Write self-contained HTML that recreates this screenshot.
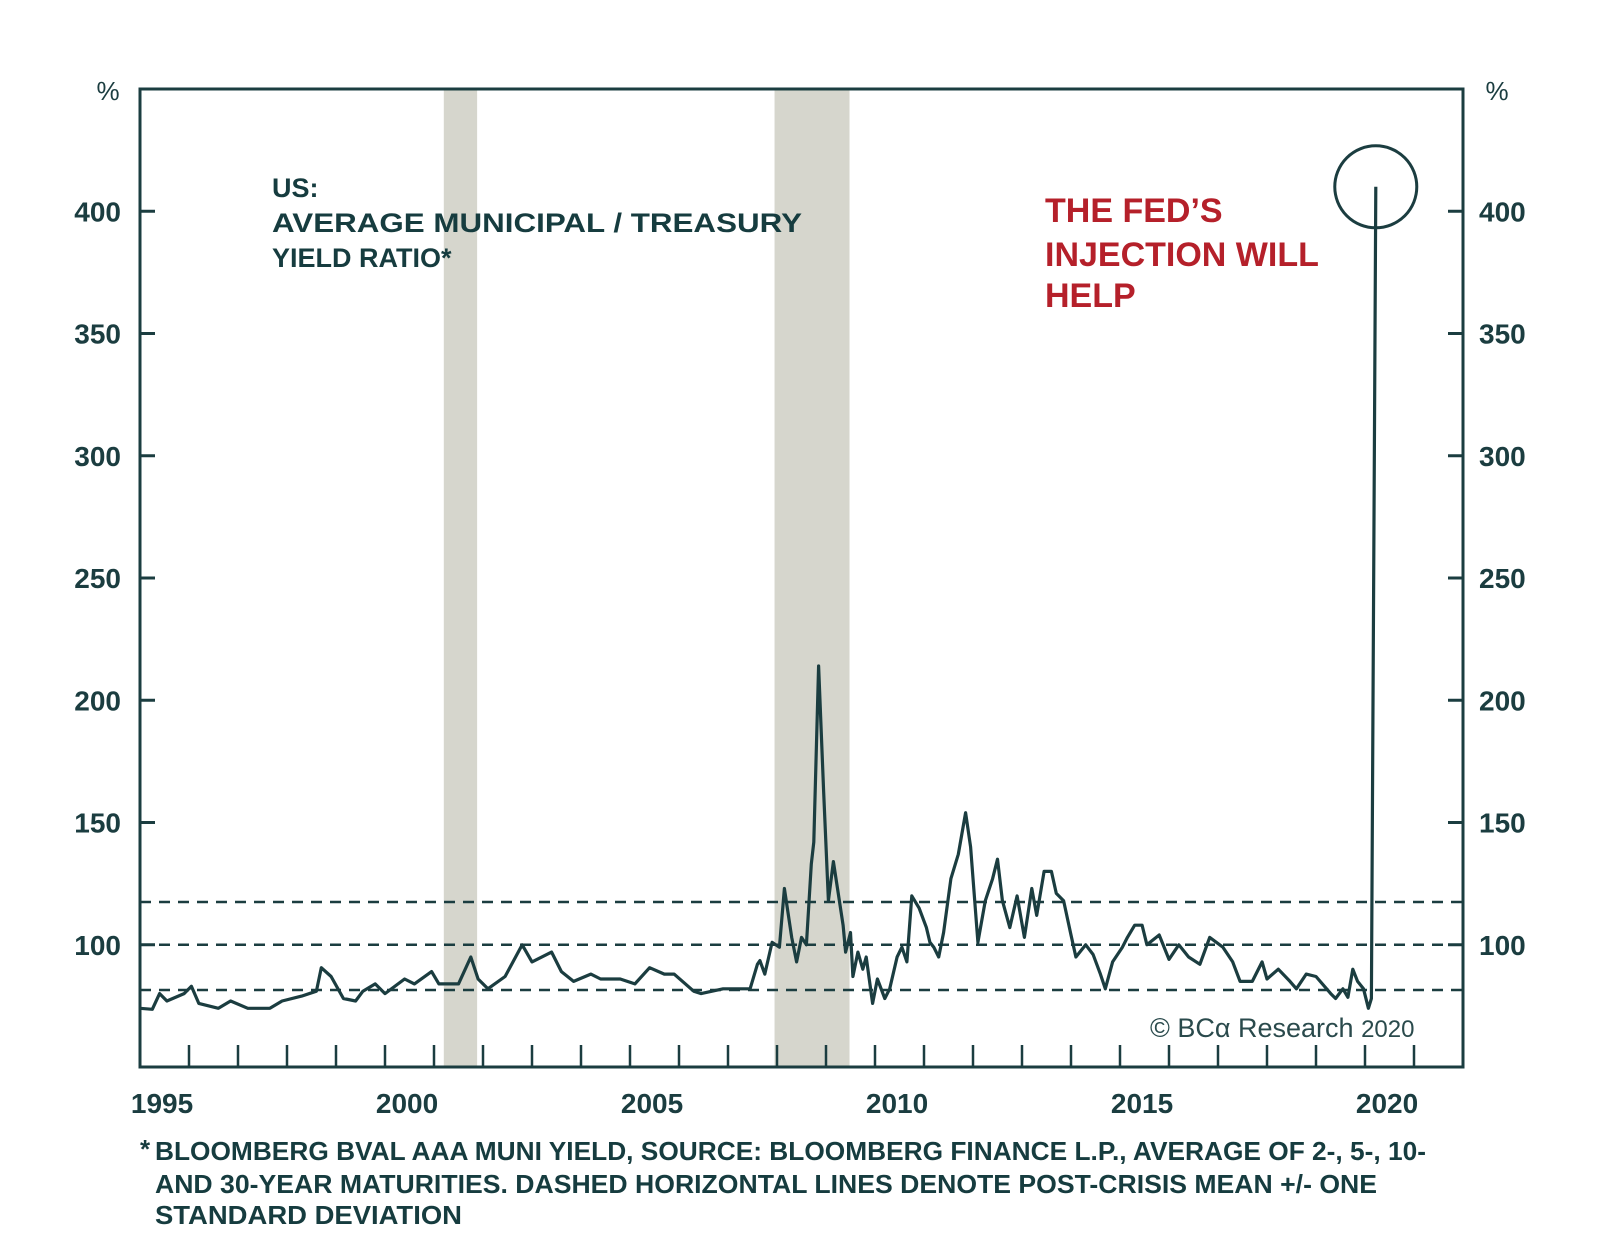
<!DOCTYPE html>
<html><head><meta charset="utf-8"><style>
html,body{margin:0;padding:0;background:#fff;}
svg{display:block;}
text{font-family:"Liberation Sans",sans-serif;}
</style></head><body>
<svg id="chart" width="1600" height="1256" viewBox="0 0 1600 1256">
<g id="shading"></g>
<g id="refs"></g>
<g id="series"></g>
<g id="axes"></g>
<text x="272" y="197" font-size="27" font-weight="bold" fill="#163c3f">US:</text>
<text x="272" y="232" font-size="27" font-weight="bold" fill="#163c3f" textLength="530" lengthAdjust="spacingAndGlyphs">AVERAGE MUNICIPAL / TREASURY</text>
<text x="272" y="267" font-size="27" font-weight="bold" fill="#163c3f">YIELD RATIO*</text>
<text x="1045" y="222" font-size="34" font-weight="bold" fill="#b5202a">THE FED’S</text>
<text x="1045" y="266" font-size="34" font-weight="bold" fill="#b5202a">INJECTION WILL</text>
<text x="1045" y="307" font-size="34" font-weight="bold" fill="#b5202a">HELP</text>
<text x="1150" y="1037" font-size="27" fill="#2a4a4c" font-family="Liberation Serif, serif">© BCα Research <tspan font-family="Liberation Sans, sans-serif" font-size="24">2020</tspan></text>
<text x="140" y="1158" font-size="26" font-weight="bold" fill="#163c3f">*</text>
<text x="155" y="1160" font-size="26" font-weight="bold" fill="#163c3f" textLength="1271" lengthAdjust="spacingAndGlyphs">BLOOMBERG BVAL AAA MUNI YIELD, SOURCE: BLOOMBERG FINANCE L.P., AVERAGE OF 2-, 5-, 10-</text>
<text x="155" y="1193" font-size="26" font-weight="bold" fill="#163c3f" textLength="1222" lengthAdjust="spacingAndGlyphs">AND 30-YEAR MATURITIES. DASHED HORIZONTAL LINES DENOTE POST-CRISIS MEAN +/- ONE</text>
<text x="155" y="1224" font-size="26" font-weight="bold" fill="#163c3f" textLength="307" lengthAdjust="spacingAndGlyphs">STANDARD DEVIATION</text>
</svg>
<script>
const years=[1995,1995.25,1995.4,1995.55,1995.9,1996.05,1996.2,1996.6,1996.85,1997.2,1997.65,1997.9,1998.3,1998.6,1998.7,1998.9,1999.15,1999.4,1999.55,1999.8,2000.0,2000.4,2000.6,2000.95,2001.1,2001.25,2001.5,2001.75,2001.9,2002.1,2002.45,2002.8,2003.0,2003.4,2003.6,2003.85,2004.2,2004.4,2004.8,2005.1,2005.4,2005.7,2005.9,2006.3,2006.45,2006.9,2007.3,2007.45,2007.6,2007.65,2007.75,2007.9,2008.05,2008.15,2008.3,2008.4,2008.5,2008.6,2008.7,2008.75,2008.85,2008.95,2009.05,2009.15,2009.35,2009.4,2009.5,2009.55,2009.65,2009.75,2009.82,2009.95,2010.05,2010.2,2010.3,2010.45,2010.55,2010.65,2010.75,2010.9,2011.05,2011.12,2011.2,2011.3,2011.4,2011.55,2011.7,2011.85,2011.95,2012.1,2012.25,2012.4,2012.5,2012.6,2012.75,2012.9,2013.05,2013.2,2013.3,2013.45,2013.6,2013.7,2013.85,2014.0,2014.1,2014.3,2014.45,2014.6,2014.7,2014.85,2015.05,2015.15,2015.3,2015.45,2015.55,2015.8,2016.0,2016.2,2016.4,2016.63,2016.83,2017.1,2017.3,2017.45,2017.7,2017.9,2018.0,2018.23,2018.47,2018.6,2018.8,2019.0,2019.3,2019.4,2019.55,2019.65,2019.75,2019.85,2019.97,2020.07,2020.13,2020.22];
const ratio=[74,73.6,80,77,80,83,76,74,77,74,74,77,79,81,90.6,87,78,77,81,84,80,86,84,89,84,84,84,95,86,82,87,100,93,97,89,85,88,86,86,84,90.6,88,88,81,80,82,82,82,92,93.5,88,101,99,123,103,93,103,100,133,142,214,163,118,134,108,97,105,87,97,90,95,76,86,78,82,95,99,93,120,115,107,101,99,95,105,127,137,154,140,101,118,127,135,118,107,120,103,123,112,130,130,121,118,104,95,100,96,88,82,93,99,103,108,108,100,104,94,100,95,92,103,99,93,85,85,93,86,90,85,82,88,87,80,78,82,78.5,90,85,82,74,78,410];
const refLevels=[81.5,100,117.5];
const recessions=[[2001.2,2001.88],[2007.95,2009.48]];
const yTicks=[100,150,200,250,300,350,400];
const xLabels=[1995,2000,2005,2010,2015,2020];
const X0=140,X1=1463,Y0=1067,Y1=89;
const xs=y=>X0+(y-1995)*(X1-X0)/27;
const ys=v=>Y0-(v-50)*(Y0-Y1)/400;
const NS="http://www.w3.org/2000/svg";
const C="#1b3d40";
function mk(parent,tag,attrs){const e=document.createElementNS(NS,tag);for(const k in attrs)e.setAttribute(k,attrs[k]);document.getElementById(parent).appendChild(e);return e;}
recessions.forEach(r=>{
 const e=mk('shading','rect',{x:xs(r[0]),y:Y1,width:xs(r[1])-xs(r[0]),height:Y0-Y1,fill:"#d6d6cd"});
 
 
});
refLevels.forEach(v=>{
 const e=mk('refs','line',{x1:X0,x2:X1,y1:ys(v),y2:ys(v),stroke:C,"stroke-width":2.5,"stroke-dasharray":"11 8"});
 
 
});
const pts=years.map((y,i)=>xs(y).toFixed(1)+","+ys(ratio[i]).toFixed(1)).join(" ");
const pl=mk('series','polyline',{points:pts,fill:"none",stroke:C,"stroke-width":3.2,"stroke-linejoin":"round"});


const last=years.length-1;
const circ=mk('series','circle',{cx:xs(years[last]),cy:ys(ratio[last]),r:41,fill:"none",stroke:C,"stroke-width":3});


const frame=mk('axes','rect',{x:X0,y:Y1,width:X1-X0,height:Y0-Y1,fill:"none",stroke:C,"stroke-width":3});


yTicks.forEach(v=>{
 const a=mk('axes','line',{x1:X0,x2:X0+15,y1:ys(v),y2:ys(v),stroke:C,"stroke-width":3});
 
 
 const b=mk('axes','line',{x1:X1-15,x2:X1,y1:ys(v),y2:ys(v),stroke:C,"stroke-width":3});
 
 
 const t=mk('axes','text',{x:121,y:ys(v)+10,"text-anchor":"end","font-size":28,"font-weight":"bold",fill:C});
 t.textContent=v;
 
 
 const t2=mk('axes','text',{x:1479,y:ys(v)+10,"font-size":28,"font-weight":"bold",fill:C});
 t2.textContent=v;
 
 
});
for(let y=1996;y<=2021;y++){
 const e=mk('axes','line',{x1:xs(y),x2:xs(y),y1:Y0,y2:Y0-22,stroke:C,"stroke-width":2.5});
 
 
}
xLabels.forEach(y=>{
 const t=mk('axes','text',{x:xs(y+0.45),y:1113,"text-anchor":"middle","font-size":28,"font-weight":"bold",fill:C});
 t.textContent=y;
 
 
});
const p1=mk('axes','text',{x:108,y:100,"text-anchor":"middle","font-size":26,fill:C});
p1.textContent="%";


const p2=mk('axes','text',{x:1497,y:100,"text-anchor":"middle","font-size":26,fill:C});
p2.textContent="%";


</script>
</body></html>
